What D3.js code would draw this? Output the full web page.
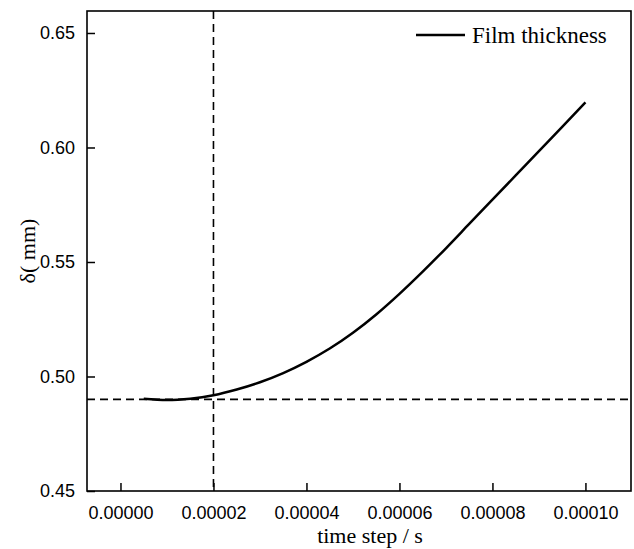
<!DOCTYPE html>
<html><head><meta charset="utf-8">
<script src="https://cdn.jsdelivr.net/npm/d3@7"></script>
<style>body{margin:0;background:#fff}svg{display:block}</style>
</head><body>
<svg id="chart" width="634" height="549"></svg>
<script>
const timeStep = [0.000005,0.00001,0.000015,0.00002,0.000025,0.00003,0.000035,0.00004,0.000045,0.00005,0.000055,0.00006,0.000065,0.00007,0.000075,0.00008,0.000085,0.00009,0.000095,0.0001];
const filmThickness = [0.4903,0.4897,0.4903,0.4918,0.4943,0.4975,0.5015,0.5064,0.5122,0.5191,0.5271,0.5361,0.5458,0.5560,0.5666,0.5772,0.5878,0.5984,0.6090,0.6197];
const xTicks = [0,0.00002,0.00004,0.00006,0.00008,0.0001];
const yTicks = [0.45,0.50,0.55,0.60,0.65];
const refX = 0.00002, refY = 0.49;
const seriesName = "Film thickness";
const xTitle = "time step / s";
const yTitle = "δ( mm)";

const svg = d3.select("#chart");
const L=87, R=631, T=11, B=491;
const x = d3.scaleLinear().domain([-0.0000072,0.0001098]).range([L,R]);
const y = d3.scaleLinear().domain([0.45,0.6596]).range([B,T]);

const g = svg.append("g");
g.append("line").attr("x1",x(refX)).attr("x2",x(refX)).attr("y1",T).attr("y2",B)
 .attr("stroke","#000").attr("stroke-width",1.6).attr("stroke-dasharray","8,5");
g.append("line").attr("x1",L).attr("x2",R).attr("y1",y(refY)).attr("y2",y(refY))
 .attr("stroke","#000").attr("stroke-width",1.6).attr("stroke-dasharray","8,5");

const line = d3.line().x((d,i)=>x(timeStep[i])).y(d=>y(d)).curve(d3.curveMonotoneX);
g.append("path").datum(filmThickness).attr("d",line).attr("fill","none")
 .attr("stroke","#000").attr("stroke-width",2.5);

const xAxis = d3.axisBottom(x).tickValues(xTicks).tickSizeInner(-8).tickSizeOuter(0).tickPadding(15)
  .tickFormat(d3.format(".5f"));
const gx = svg.append("g").attr("transform",`translate(0,${B})`).call(xAxis);
const yAxis = d3.axisLeft(y).tickValues(yTicks).tickSizeInner(-8).tickSizeOuter(0).tickPadding(12)
  .tickFormat(d3.format(".2f"));
const gy = svg.append("g").attr("transform",`translate(${L},0)`).call(yAxis);
[gx,gy].forEach(a=>{
  a.select(".domain").remove();
  a.selectAll("line").attr("stroke","#000").attr("stroke-width",1.5);
  a.selectAll("text").attr("font-family","'Liberation Sans', Arial, sans-serif").attr("font-size",18).attr("fill","#000");
});
gx.selectAll("text").attr("dy","0.71em");
svg.append("rect").attr("x",L).attr("y",T).attr("width",R-L).attr("height",B-T)
 .attr("fill","none").attr("stroke","#000").attr("stroke-width",1.6);

svg.append("text").attr("x",(L+R)/2+11).attr("y",543).attr("text-anchor","middle")
 .attr("font-family","'Liberation Serif', 'Times New Roman', serif").attr("font-size",22).text(xTitle);
svg.append("text").attr("transform",`translate(35,251) rotate(-90)`).attr("text-anchor","middle")
 .attr("font-family","'Liberation Serif', 'Times New Roman', serif").attr("font-size",22).text(yTitle);

svg.append("line").attr("x1",416).attr("x2",465).attr("y1",35).attr("y2",35).attr("stroke","#000").attr("stroke-width",2.5);
svg.append("text").attr("x",472).attr("y",43)
 .attr("font-family","'Liberation Serif', 'Times New Roman', serif").attr("font-size",23).text(seriesName);
</script>
</body></html>
